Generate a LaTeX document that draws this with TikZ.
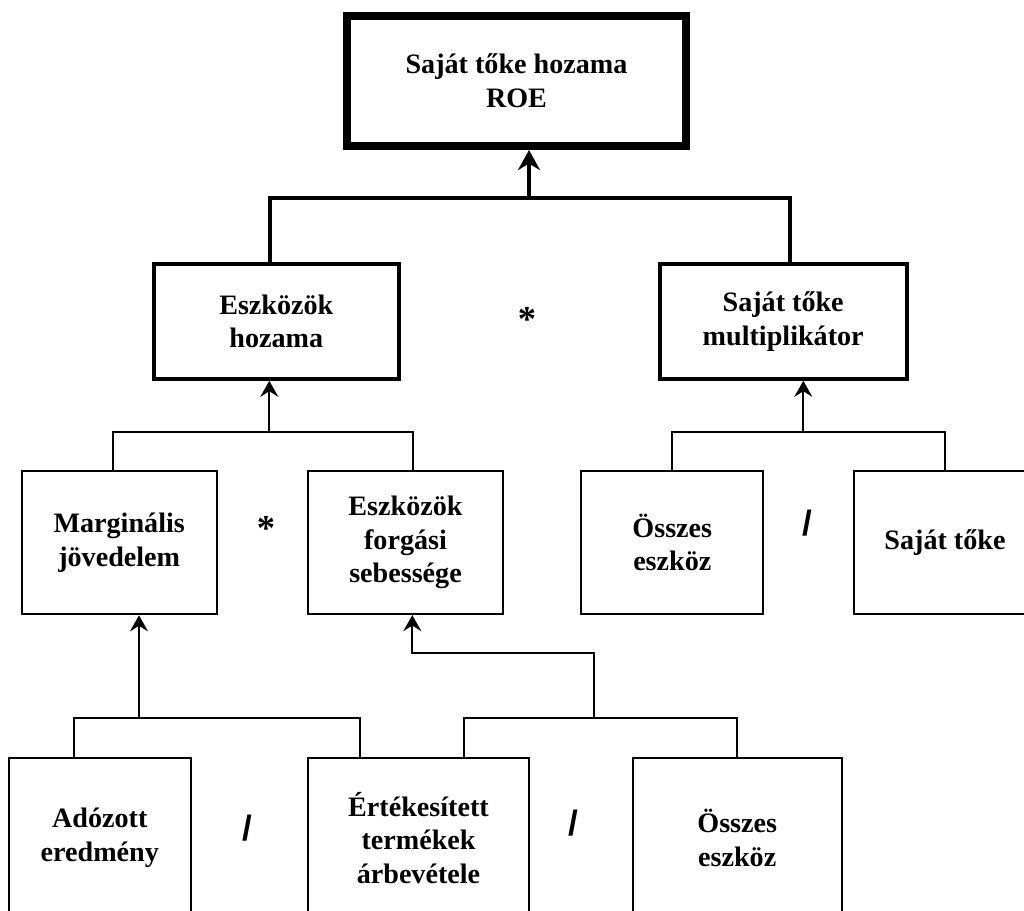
\documentclass[tikz,border=0pt]{standalone}
\usepackage{fontspec}
\setmainfont{Liberation Serif}
\newfontfamily\slashfont{Liberation Sans}
\usetikzlibrary{arrows.meta}
\tikzset{
  box/.style={draw, rectangle, line width=0.05cm, align=center, inner sep=0pt,
    font=\fontsize{20}{24}\selectfont\bfseries},
  bigbox/.style={box, line width=0.1cm},
  topbox/.style={box, line width=0.2cm},
  link/.style={line width=0.05cm},
  biglink/.style={line width=0.1cm},
  up/.style={-{Stealth[length=0.4cm, width=0.45cm, inset=0.14cm]}},
  bigup/.style={-{Stealth[length=0.5cm, width=0.55cm, inset=0.16cm]}},
  op/.style={font=\fontsize{26}{28}\selectfont\bfseries},
  divop/.style={font=\slashfont\fontsize{25}{28}\selectfont\bfseries},
}

\begin{document}
\begin{tikzpicture}[x=0.025cm, y=-0.025cm]
    \path[use as bounding box] (0, 0) rectangle (1024, 910);
    \clip (0, 0) rectangle (1024, 910);

    % top
    \node[topbox, minimum width=8.45cm, minimum height=3.25cm] at (516.5, 81) (roe) {Saját tőke hozama\\ROE};

    % level 1
    \node[bigbox, minimum width=6.125cm, minimum height=2.875cm] at (276.3, 321.3) (eh) {Eszközök\\hozama};
    \node[bigbox, minimum width=6.175cm, minimum height=2.875cm] at (783.2, 321.3) (stm) {Saját tőke\\multiplikátor};
    \node[op] at (527, 319) (mul1) {*};

    % level 2
    \node[box, minimum width=4.875cm, minimum height=3.58cm] at (119.2, 542.7) (mj) {Marginális\\jövedelem};
    \node[box, minimum width=4.86cm, minimum height=3.58cm] at (405.5, 542.5) (ef) {Eszközök\\forgási\\sebessége};
    \node[box, minimum width=4.55cm, minimum height=3.58cm] at (672.3, 542.5) (oe1) {Összes\\eszköz};
    \node[box, minimum width=4.55cm, minimum height=3.58cm] at (945, 542.5) (st) {Saját tőke};
    \node[op] at (266, 528) (mul2) {*};
    \node[divop] at (807, 523) (div1) {/};

    % level 3
    \node[box, minimum width=4.54cm, minimum height=4cm] at (99.8, 838) (ae) {Adózott\\eredmény};
    \node[box, minimum width=5.51cm, minimum height=4cm] at (418.5, 838) (et) {Értékesített\\termékek\\árbevétele};
    \node[box, minimum width=5.225cm, minimum height=4cm] at (737.2, 838) (oe2) {Összes\\eszköz};
    \node[divop] at (247, 828) (div2) {/};
    \node[divop] at (573, 823) (div3) {/};

    % connectors
    \coordinate (j0) at (529, 198);
    \coordinate (j0l) at (269.7, 198);
    \coordinate (j0r) at (789.7, 198);
    \draw[biglink] (eh.north -| j0l) -- (j0l) -- (j0r) -- (stm.north -| j0r);
    \draw[biglink, bigup] (j0) -- (j0 |- roe.south);

    \coordinate (j1) at (269.3, 432.3);
    \coordinate (j1l) at (113.3, 432.3);
    \coordinate (j1r) at (412.7, 432.3);
    \draw[link] (mj.north -| j1l) -- (j1l) -- (j1r) -- (ef.north -| j1r);
    \draw[link, up] (j1) -- (j1 |- eh.south);

    \coordinate (j2) at (803.3, 432.3);
    \draw[link] (oe1.north) -- (oe1.north |- j2) -- (st.north |- j2) -- (st.north);
    \draw[link, up] (j2) -- (j2 |- stm.south);

    \coordinate (j3) at (139, 718.3);
    \coordinate (j3l) at (74, 718.3);
    \coordinate (j3r) at (360, 718.3);
    \draw[link] (ae.north -| j3l) -- (j3l) -- (j3r) -- (et.north -| j3r);
    \draw[link, up] (j3) -- (j3 |- mj.south);

    \coordinate (j4) at (594.3, 718.3);
    \coordinate (j4l) at (464, 718.3);
    \coordinate (j4t) at (594.3, 653.3);
    \coordinate (j4e) at (412.3, 653.3);
    \draw[link] (et.north -| j4l) -- (j4l) -- (oe2.north |- j4) -- (oe2.north);
    \draw[link, up] (j4) -- (j4t) -- (j4e) -- (j4e |- ef.south);
\end{tikzpicture}
\end{document}
